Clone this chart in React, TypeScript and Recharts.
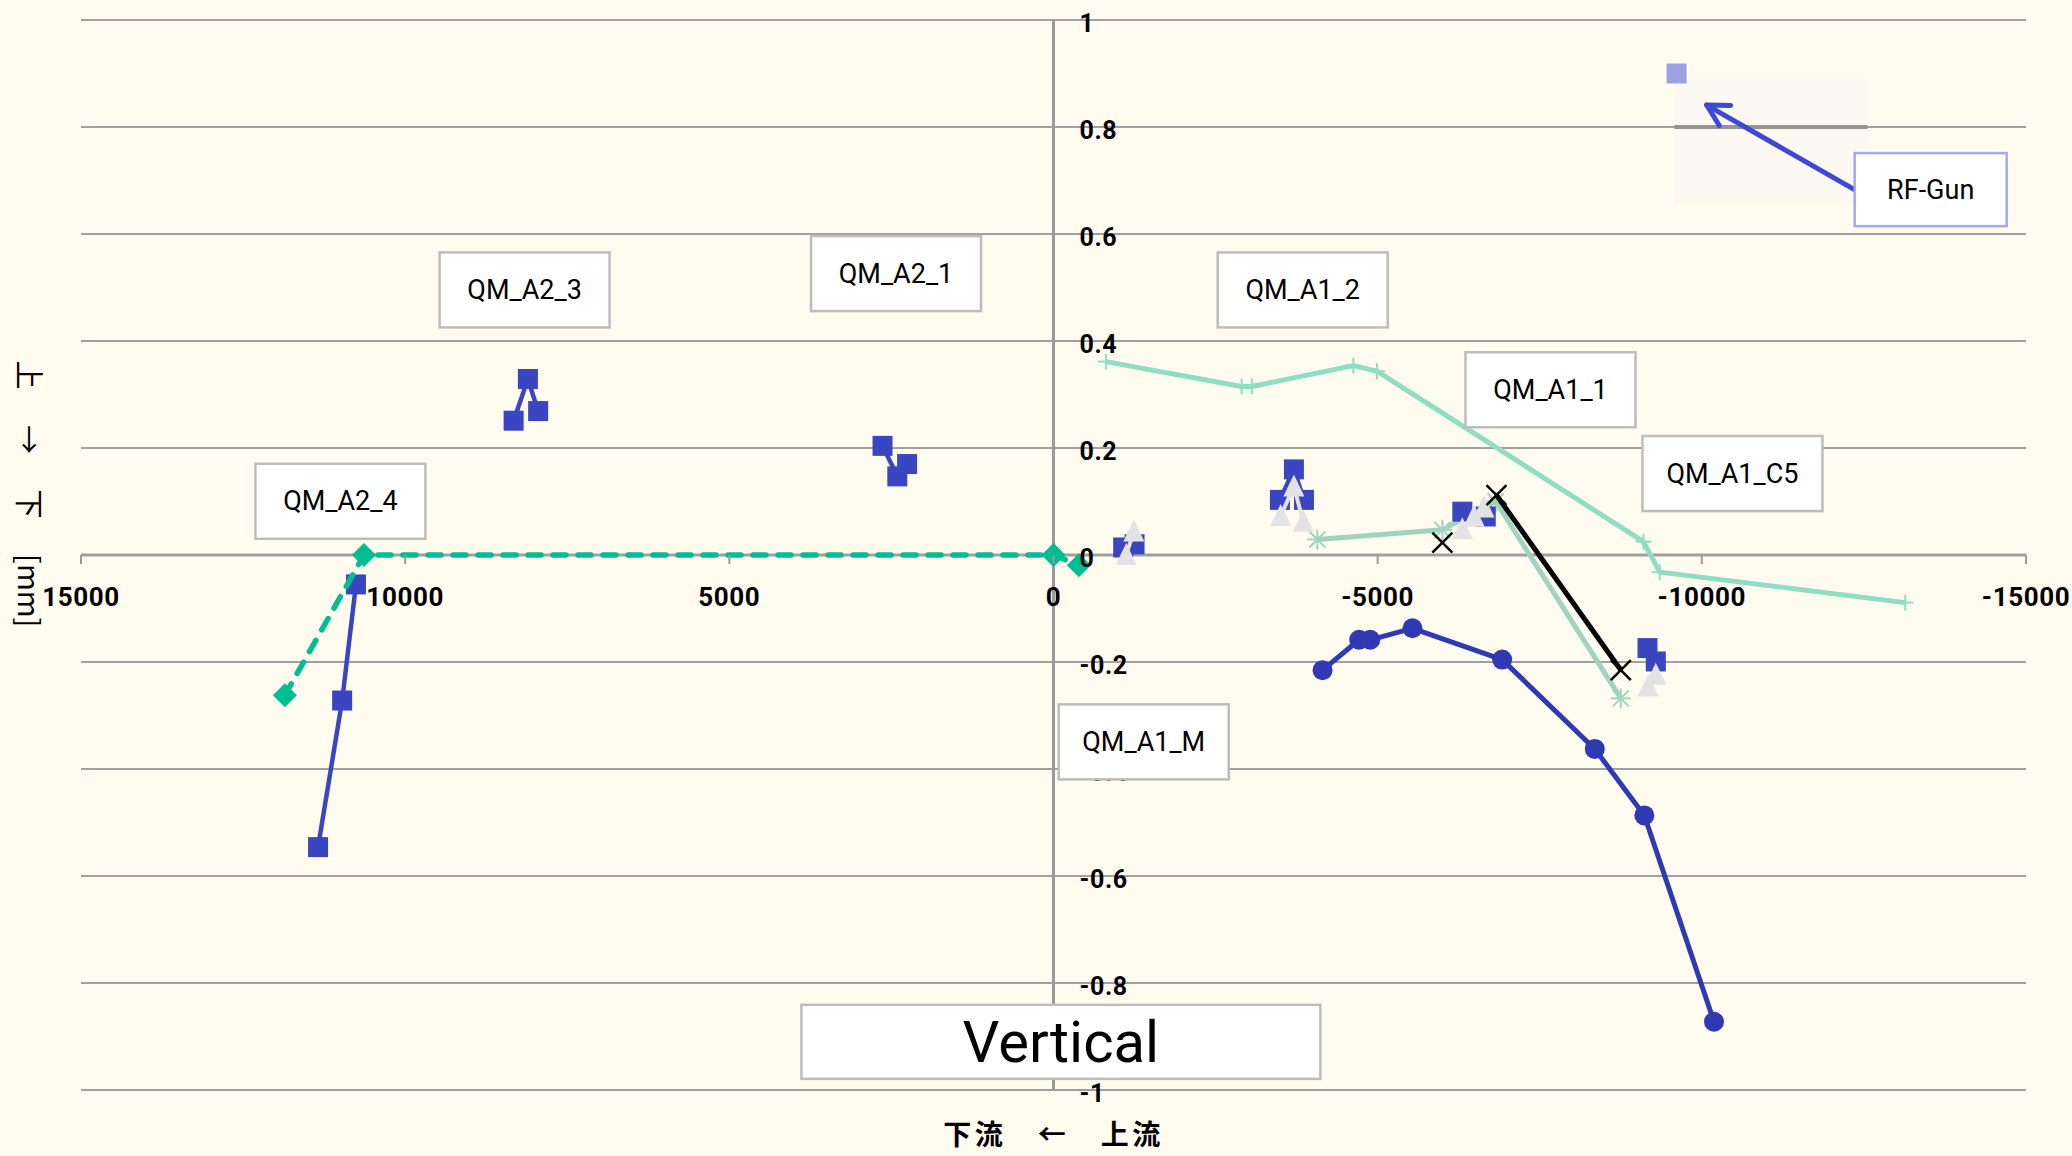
import React from 'react';
import {
  ScatterChart,
  Scatter,
  XAxis,
  YAxis,
  ReferenceLine,
  ReferenceDot,
  ReferenceArea,
} from 'recharts';

// ---------------- data ----------------
const xTickValues = [15000, 10000, 5000, 0, -5000, -10000, -15000];
const xTickLabels = ['15000', '10000', '5000', '0', '-5000', '-10000', '-15000'];
const yTickValues = [1, 0.8, 0.6, 0.4, 0.2, 0, -0.2, -0.4, -0.6, -0.8, -1];
const yTickLabels = ['1', '0.8', '0.6', '0.4', '0.2', '0', '-0.2', '-0.4', '-0.6', '-0.8', '-1'];

// blue square groups (one per magnet)
const squaresQM_A2_4 = [
  { x: 11344, y: -0.546 },
  { x: 10972, y: -0.272 },
  { x: 10759, y: -0.055 },
];
const squaresQM_A2_3 = [
  { x: 8327, y: 0.251 },
  { x: 8107, y: 0.329 },
  { x: 7949, y: 0.269 },
];
const squaresQM_A2_1 = [
  { x: 2637, y: 0.204 },
  { x: 2409, y: 0.147 },
  { x: 2258, y: 0.17 },
];
const squaresQM_A1_M = [
  { x: -1075, y: 0.014 },
  { x: -1250, y: 0.02 },
];
const squaresQM_A1_2 = [
  { x: -3492, y: 0.103 },
  { x: -3708, y: 0.16 },
  { x: -3863, y: 0.103 },
];
const squaresQM_A1_1 = [
  { x: -6306, y: 0.081 },
  { x: -6667, y: 0.072 },
];
const squaresQM_A1_C5 = [
  { x: -9162, y: -0.174 },
  { x: -9290, y: -0.199 },
];

// light grey triangle groups
const trianglesQM_A1_M = [
  { x: -1121, y: 0.0 },
  { x: -1239, y: 0.044 },
];
const trianglesQM_A1_2 = [
  { x: -3503, y: 0.073 },
  { x: -3708, y: 0.128 },
  { x: -3853, y: 0.062 },
];
const trianglesQM_A1_1 = [
  { x: -6306, y: 0.048 },
  { x: -6487, y: 0.072 },
  { x: -6641, y: 0.089 },
];
const trianglesQM_A1_C5 = [
  { x: -9171, y: -0.246 },
  { x: -9290, y: -0.224 },
];

// green dashed diamonds
const diamondSeries = [
  { x: 11855, y: -0.262 },
  { x: 10636, y: 0.0 },
  { x: 0, y: 0.0 },
  { x: -391, y: -0.019 },
];

// mint line with + markers
const plusSeries = [
  { x: -809, y: 0.3615 },
  { x: -2901, y: 0.315 },
  { x: -3060, y: 0.315 },
  { x: -4625, y: 0.354 },
  { x: -4989, y: 0.3436 },
  { x: -9099, y: 0.025 },
  { x: -9350, y: -0.032 },
  { x: -13138, y: -0.089 },
];

// mint line with asterisk markers
const asteriskSeries = [
  { x: -4069, y: 0.029 },
  { x: -5998, y: 0.047 },
  { x: -6821, y: 0.1 },
  { x: -8750, y: -0.268 },
];

// black x markers
const crossSingle = [{ x: -5998, y: 0.023 }];
const crossSeries = [
  { x: -6832, y: 0.112 },
  { x: -8750, y: -0.215 },
];

// dark blue circles
const circleSeries = [
  { x: -4150, y: -0.2153 },
  { x: -4714, y: -0.1585 },
  { x: -4886, y: -0.1585 },
  { x: -5537, y: -0.137 },
  { x: -6920, y: -0.1955 },
  { x: -8349, y: -0.3625 },
  { x: -9113, y: -0.4868 },
  { x: -10188, y: -0.8725 },
];

// RF gun
const rfGunPoint = [{ x: -9610, y: 0.9 }];

// annotation boxes (anchored in data space)
const boxLabels = ['QM_A2_3', 'QM_A2_4', 'QM_A2_1', 'QM_A1_2', 'QM_A1_1', 'QM_A1_C5', 'QM_A1_M'];
const boxX = [8158, 10999, 2429, -3844, -7666, -10472, -1392];
const boxY = [0.4955, 0.1004, 0.526, 0.4955, 0.3089, 0.1523, -0.3493];

const titleLabel = 'Vertical';
const titleAnchor = { x: -114, y: -0.91 };
const rfLabel = 'RF-Gun';
const rfAnchor = { x: -13530, y: 0.683 };
const rfArrowFrom = { x: -12354, y: 0.683 };
const rfArrowTo = { x: -10075, y: 0.841 };
const rfPatch = { x1: -9576, x2: -12553, y1: 0.654, y2: 0.891 };

const xTitle = '下流　←　上流';
const yTitle = '上　 →　 下　 [mm]';

// ---------------- styles ----------------
const BG = '#FFFBEF';
const GRID = '#A0A0A0';
const SQ_BLUE = '#3A45C2';
const CIRCLE_BLUE = '#2F39B3';
const TRI_GREY = '#E3E3E3';
const DIAMOND_GREEN = '#00BE91';
const MINT = '#8FDEC4';
const MINT2 = '#9FD4BE';
const RF_COLOR = '#9CA1E6';
const ARROW_BLUE = '#3D48D6';

const LATIN = 'Roboto, "Noto Sans", "Liberation Sans", sans-serif';
const CJK = '"Noto Sans CJK JP", "Noto Sans CJK SC", sans-serif';

const cxOf = (p: any) => (p.cx !== undefined ? p.cx : p.x + (p.width || 0) / 2);
const cyOf = (p: any) => (p.cy !== undefined ? p.cy : p.y + (p.height || 0) / 2);

// connecting line drawn from the points Recharts computes for the series
const seriesLine =
  (stroke: string, width: number, dash?: string) => (props: any) => {
    const pts = (props.points || [])
      .filter((q: any) => q && Number.isFinite(q.x) && Number.isFinite(q.y))
      .map((q: any) => `${q.x},${q.y}`)
      .join(' ');
    return (
      <polyline
        points={pts}
        fill="none"
        stroke={stroke}
        strokeWidth={width}
        strokeDasharray={dash}
        strokeLinecap={dash ? 'round' : 'butt'}
        strokeLinejoin="round"
      />
    );
  };

const squareShape = (fill: string) => (p: any) => {
  const cx = cxOf(p);
  const cy = cyOf(p);
  return <rect x={cx - 10} y={cy - 10} width={20} height={20} fill={fill} />;
};
const triangleShape = (fill: string) => (p: any) => {
  const cx = cxOf(p);
  const cy = cyOf(p);
  return (
    <polygon
      points={`${cx},${cy - 12} ${cx - 10.5},${cy + 10} ${cx + 10.5},${cy + 10}`}
      fill={fill}
    />
  );
};
const circleShape = (fill: string) => (p: any) => (
  <circle cx={cxOf(p)} cy={cyOf(p)} r={10} fill={fill} />
);
const diamondShape = (fill: string) => (p: any) => {
  const cx = cxOf(p);
  const cy = cyOf(p);
  return (
    <polygon
      points={`${cx},${cy - 12} ${cx + 12},${cy} ${cx},${cy + 12} ${cx - 12},${cy}`}
      fill={fill}
    />
  );
};
const plusShape = (stroke: string) => (p: any) => {
  const cx = cxOf(p);
  const cy = cyOf(p);
  return (
    <g stroke={stroke} strokeWidth={2}>
      <line x1={cx - 8} y1={cy} x2={cx + 8} y2={cy} />
      <line x1={cx} y1={cy - 8} x2={cx} y2={cy + 8} />
    </g>
  );
};
const asteriskShape = (stroke: string) => (p: any) => {
  const cx = cxOf(p);
  const cy = cyOf(p);
  return (
    <g stroke={stroke} strokeWidth={2}>
      <line x1={cx - 10} y1={cy} x2={cx + 10} y2={cy} />
      <line x1={cx} y1={cy - 10} x2={cx} y2={cy + 10} />
      <line x1={cx - 8} y1={cy - 8} x2={cx + 8} y2={cy + 8} />
      <line x1={cx - 8} y1={cy + 8} x2={cx + 8} y2={cy - 8} />
    </g>
  );
};
const crossShape = (stroke: string) => (p: any) => {
  const cx = cxOf(p);
  const cy = cyOf(p);
  return (
    <g stroke={stroke} strokeWidth={2.5}>
      <line x1={cx - 10} y1={cy - 10} x2={cx + 10} y2={cy + 10} />
      <line x1={cx - 10} y1={cy + 10} x2={cx + 10} y2={cy - 10} />
    </g>
  );
};

const boxShape =
  (label: string, w: number, h: number, border: string, fontSize: number) => (p: any) => {
    const cx = cxOf(p);
    const cy = cyOf(p);
    return (
      <g>
        <rect
          x={cx - w / 2}
          y={cy - h / 2}
          width={w}
          height={h}
          fill="#FFFFFF"
          stroke={border}
          strokeWidth={2.5}
        />
        <text
          x={cx}
          y={cy}
          textAnchor="middle"
          dominantBaseline="central"
          fontFamily={LATIN}
          fontSize={fontSize}
          fill="#000"
        >
          {label}
        </text>
      </g>
    );
  };

const xTickShape = (label: string) => (p: any) => {
  const cx = cxOf(p);
  const cy = cyOf(p);
  return (
    <g>
      <line x1={cx} y1={cy} x2={cx} y2={cy + 9} stroke="#9A9A9A" strokeWidth={2} />
      <text
        x={cx}
        y={cy + 42}
        textAnchor="middle"
        dominantBaseline="central"
        fontFamily={LATIN}
        fontWeight={700}
        fontSize={26}
        letterSpacing={0.6}
        fill="#000"
      >
        {label}
      </text>
    </g>
  );
};

const yTickShape = (label: string) => (p: any) => {
  const cx = cxOf(p);
  const cy = cyOf(p);
  return (
    <text
      x={cx + 26}
      y={cy + 3}
      textAnchor="start"
      dominantBaseline="central"
      fontFamily={LATIN}
      fontWeight={700}
      fontSize={25}
      letterSpacing={0.6}
      fill="#000"
    >
      {label}
    </text>
  );
};

const xTitleShape = (p: any) => {
  const cx = cxOf(p);
  const cy = cyOf(p);
  return (
    <text
      x={cx}
      y={cy + 43}
      textAnchor="middle"
      dominantBaseline="central"
      fontFamily={CJK}
      fontWeight={700}
      fontSize={28}
      letterSpacing={3.5}
      fill="#000"
    >
      {xTitle}
    </text>
  );
};

const yTitleShape = (p: any) => {
  const x = cxOf(p) - 50;
  const y = cyOf(p) - 61;
  return (
    <text
      x={x}
      y={y}
      transform={`rotate(90 ${x} ${y})`}
      textAnchor="middle"
      dominantBaseline="central"
      fontFamily={CJK}
      fontSize={29}
      fill="#000"
    >
      {yTitle}
    </text>
  );
};

const arrowShape = (p: any) => {
  const { x1, y1, x2, y2 } = p;
  const ang = Math.atan2(y2 - y1, x2 - x1);
  const L = 24;
  const s = 0.5;
  const ax = x2 - L * Math.cos(ang - s);
  const ay = y2 - L * Math.sin(ang - s);
  const bx = x2 - L * Math.cos(ang + s);
  const by = y2 - L * Math.sin(ang + s);
  return (
    <g stroke={ARROW_BLUE} strokeWidth={5} strokeLinecap="round" fill="none">
      <line x1={x1} y1={y1} x2={x2} y2={y2} />
      <polyline points={`${ax},${ay} ${x2},${y2} ${bx},${by}`} strokeLinejoin="round" />
    </g>
  );
};

const boxWidthFor = (label: string) => (label.length > 7 ? 180 : 170);

export default function App() {
  return (
    <div
      style={{
        position: 'absolute',
        left: 0,
        top: 0,
        width: 2072,
        height: 1156,
        background: BG,
      }}
    >
      <ScatterChart
        width={2072}
        height={1156}
        margin={{ top: 20, right: 46, bottom: 66, left: 81 }}
      >
        <XAxis
          type="number"
          dataKey="x"
          domain={[-15000, 15000]}
          reversed
          hide
          allowDataOverflow
        />
        <YAxis type="number" dataKey="y" domain={[-1, 1]} hide allowDataOverflow />

        {yTickValues.map((v) => (
          <ReferenceLine
            key={'grid' + v}
            y={v}
            stroke={GRID}
            strokeWidth={v === 0 ? 3 : 2}
          />
        ))}
        <ReferenceLine x={0} stroke="#9A9A9A" strokeWidth={3} />

        <ReferenceArea
          x1={rfPatch.x1}
          x2={rfPatch.x2}
          y1={rfPatch.y1}
          y2={rfPatch.y2}
          fill="#FBF9F2"
          fillOpacity={1}
          stroke="none"
        />
        <ReferenceLine
          segment={[
            { x: rfPatch.x1, y: 0.8 },
            { x: rfPatch.x2, y: 0.8 },
          ]}
          stroke="#959595"
          strokeWidth={4}
        />

        <Scatter
          data={plusSeries}
          fill={MINT}
          line={seriesLine(MINT, 5)}
          lineType="joint"
          shape={plusShape(MINT)}
          isAnimationActive={false}
        />
        <Scatter
          data={asteriskSeries}
          fill={MINT2}
          line={seriesLine(MINT2, 5)}
          lineType="joint"
          shape={asteriskShape(MINT2)}
          isAnimationActive={false}
        />
        <Scatter
          data={circleSeries}
          fill={CIRCLE_BLUE}
          line={seriesLine(CIRCLE_BLUE, 5)}
          lineType="joint"
          shape={circleShape(CIRCLE_BLUE)}
          isAnimationActive={false}
        />
        {[
          squaresQM_A2_4,
          squaresQM_A2_3,
          squaresQM_A2_1,
          squaresQM_A1_M,
          squaresQM_A1_2,
          squaresQM_A1_1,
          squaresQM_A1_C5,
        ].map((d, i) => (
          <Scatter
            key={'sq' + i}
            data={d}
            fill={SQ_BLUE}
            line={seriesLine(SQ_BLUE, 4.5)}
            lineType="joint"
            shape={squareShape(SQ_BLUE)}
            isAnimationActive={false}
          />
        ))}
        <Scatter
          data={diamondSeries}
          fill={DIAMOND_GREEN}
          line={seriesLine(DIAMOND_GREEN, 5.5, '13 12')}
          lineType="joint"
          shape={diamondShape(DIAMOND_GREEN)}
          isAnimationActive={false}
        />
        {[trianglesQM_A1_M, trianglesQM_A1_2, trianglesQM_A1_1, trianglesQM_A1_C5].map(
          (d, i) => (
            <Scatter
              key={'tri' + i}
              data={d}
              fill={TRI_GREY}
              line={seriesLine(TRI_GREY, 4)}
              lineType="joint"
              shape={triangleShape(TRI_GREY)}
              isAnimationActive={false}
            />
          )
        )}
        <Scatter
          data={crossSeries}
          fill="#000000"
          line={seriesLine('#000000', 5)}
          lineType="joint"
          shape={crossShape('#000000')}
          isAnimationActive={false}
        />
        <Scatter
          data={crossSingle}
          fill="#000000"
          shape={crossShape('#000000')}
          isAnimationActive={false}
        />
        <Scatter
          data={rfGunPoint}
          fill={RF_COLOR}
          shape={squareShape(RF_COLOR)}
          isAnimationActive={false}
        />

        <ReferenceLine
          segment={[rfArrowFrom, rfArrowTo]}
          stroke={ARROW_BLUE}
          shape={arrowShape}
        />

        {xTickValues.map((v, i) => (
          <ReferenceDot
            key={'xt' + v}
            x={v}
            y={0}
            r={0}
            ifOverflow="visible"
            shape={xTickShape(xTickLabels[i])}
          />
        ))}
        {yTickValues.map((v, i) => (
          <ReferenceDot
            key={'yt' + v}
            x={0}
            y={v}
            r={0}
            ifOverflow="visible"
            shape={yTickShape(yTickLabels[i])}
          />
        ))}

        <ReferenceDot x={0} y={-1} r={0} ifOverflow="visible" shape={xTitleShape} />
        <ReferenceDot x={15000} y={0} r={0} ifOverflow="visible" shape={yTitleShape} />

        {boxLabels.map((lab, i) => (
          <ReferenceDot
            key={'box' + lab}
            x={boxX[i]}
            y={boxY[i]}
            r={0}
            ifOverflow="visible"
            shape={boxShape(lab, boxWidthFor(lab), 75, '#BDBDBD', 27)}
          />
        ))}
        <ReferenceDot
          x={rfAnchor.x}
          y={rfAnchor.y}
          r={0}
          ifOverflow="visible"
          shape={boxShape(rfLabel, 152, 73, '#A3A8F0', 27)}
        />
        <ReferenceDot
          x={titleAnchor.x}
          y={titleAnchor.y}
          r={0}
          ifOverflow="visible"
          shape={boxShape(titleLabel, 519, 74, '#BDBDBD', 58)}
        />
      </ScatterChart>
    </div>
  );
}
